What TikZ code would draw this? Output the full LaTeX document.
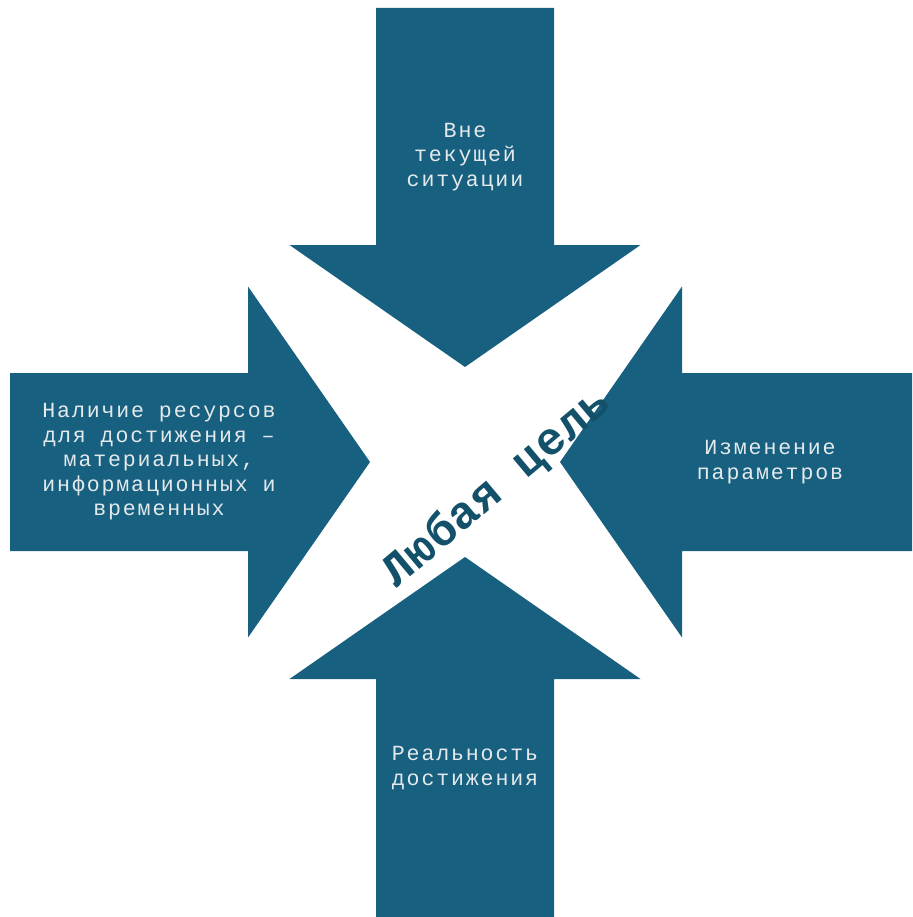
\documentclass[tikz,border=0pt]{standalone}
\usepackage{fontspec}
\usepackage{xcolor}
\usepackage{tikz}
\setmonofont{Liberation Mono}[LetterSpace=8.5]
\newfontfamily\goalfont{Liberation Mono}[LetterSpace=1.8]
\usetikzlibrary{positioning}

\definecolor{arrowblue}{HTML}{17607F}
\definecolor{goalteal}{HTML}{13506A}
\definecolor{labelgrey}{HTML}{E4E9EC}

\begin{document}
\begin{tikzpicture}[x=1pt,y=-1pt,
    arrowbox/.style={fill=arrowblue},
    arrowlabel/.style={text=labelgrey, font=\ttfamily\fontsize{21.6}{24.5}\selectfont, align=center, inner sep=0pt},
    goallabel/.style={text=goalteal, font=\goalfont\bfseries\fontsize{46}{46}\selectfont, rotate=40, inner sep=0pt}]
    \useasboundingbox (0,0) rectangle (912,917);
    \coordinate (c) at (465,462);

    % Arrows
    \foreach \ang/\len in {0/455, 180/447, -90/454, 90/455}
        \fill[arrowbox, shift={(c)}, rotate=\ang] (-\len,-89) -- (-217,-89) -- (-217,-175.5) -- (-95,0) -- (-217,175.5) -- (-217,89) -- (-\len,89) -- cycle;

    % Labels
    \node[arrowlabel, above=305pt of c, anchor=center] (outside) {Вне\\текущей\\ситуации};
    \node[arrowlabel, left=306pt of c, anchor=center] (resources) {Наличие ресурсов\\для достижения –\\материальных,\\информационных и\\временных};
    \node[arrowlabel, right=305pt of c, anchor=center] (params) {Изменение\\параметров};
    \node[arrowlabel, below=306pt of c, anchor=center] (reality) {Реальность\\достижения};

    \node[goallabel] (goal) at (497,488) {Любая цель};
\end{tikzpicture}
\end{document}
